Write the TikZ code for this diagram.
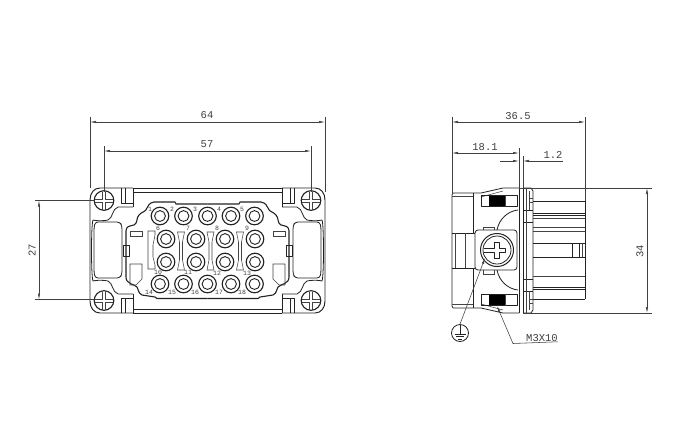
\documentclass[tikz,border=0pt]{standalone}
\usepackage{fontspec}
\setmainfont{Liberation Mono}
\usetikzlibrary{arrows.meta}
\definecolor{ink}{HTML}{222222}
\definecolor{dimc}{HTML}{404040}
\tikzset{
  part/.style={draw=ink,line width=0.8pt,line join=round},
  thin part/.style={draw=ink!85,line width=0.55pt},
  dimline/.style={draw=dimc,line width=0.55pt,{Latex[length=6pt,width=2.4pt]}-{Latex[length=6pt,width=2.4pt]}},
  tipline/.style={draw=dimc,line width=0.55pt,-{Latex[length=6pt,width=2.4pt]}},
  extline/.style={draw=dimc,line width=0.55pt},
  dimtext/.style={font=\fontsize{10.5}{11}\selectfont,text=dimc,inner sep=0pt},
  pinno/.style={font=\fontsize{6.5}{7}\selectfont,text=dimc,inner sep=0pt},
}
\newcommand{\pincircle}[2]{%
  \draw[part,line width=1.15pt] (#1,#2) circle (8.8);
  \draw[part,line width=0.9pt] (#1,#2) circle (5.4);
}
\newcommand{\platescrew}[2]{%
  \draw[part,line width=1.1pt] (#1,#2) circle (9.8);
  \draw[thin part] (#1-9,#2-1.5) -- (#1-1.5,#2-1.5) -- (#1-1.5,#2-9)
    (#1+1.5,#2-9) -- (#1+1.5,#2-1.5) -- (#1+9,#2-1.5)
    (#1+9,#2+1.5) -- (#1+1.5,#2+1.5) -- (#1+1.5,#2+9)
    (#1-1.5,#2+9) -- (#1-1.5,#2+1.5) -- (#1-9,#2+1.5);
}
% half of the front view, left side (mirrored for the right side)
\newcommand{\halffront}{%
  \draw[part,line width=0.95pt] (133,188) -- (100,188) .. controls (94,188) and (90,193) .. (90,200)
    -- (90,301) .. controls (90,308) and (94,313) .. (100,313) -- (133,313);
  \draw[part] (133,188) -- (133,207) (133,294) -- (133,313);
  \draw[part] (121,188) -- (121,203) -- (133,203) (125,188) -- (125,203)
     (121,313) -- (121,298) -- (133,298) (125,313) -- (125,298);
  \draw[part] (93,220) .. controls (95,221) and (105,221) .. (108,220)
     .. controls (113,218) and (112,209) .. (118,207) -- (133,207);
  \draw[part] (93,281) .. controls (95,280) and (105,280) .. (108,281)
     .. controls (113,283) and (112,292) .. (118,294) -- (133,294);
  \draw[part] (93,220) .. controls (91,225) and (91,276) .. (93,281);
  \draw[part,rounded corners=3pt] (95,222) -- (120,222) -- (122,226) -- (122,274) -- (120,278) -- (95,278) -- (94,272) -- (94,228) -- cycle;
  \draw[part,line width=1.1pt] (207.5,204) -- (176,204) -- (175,202) -- (154,202) .. controls (149,203) and (148,206) .. (147,208)
     .. controls (146,212) and (141,212) .. (139,215) .. controls (136,218) and (138,223) .. (134,225)
     .. controls (130,226) and (126,226) .. (126,231) -- (126,277)
     .. controls (126,284) and (134,284) .. (137,287) .. controls (139,290) and (138,293) .. (142,295)
     -- (155,297) -- (157,298.5) -- (207.5,298.5);
  \draw[part] (123,245) rectangle (129,256);
  \draw[thin part] (130,231) rectangle (142,236);
  \draw[thin part] (130,285) -- (130,264) -- (142,264) -- (142,279) -- (136,285) -- cycle;
}
\begin{document}
\begin{tikzpicture}[x=1pt,y=-1pt]
\useasboundingbox (0,0) rectangle (680,440);
\fill[white] (0,0) rectangle (680,440);

% ---------- front view ----------
\halffront
\begin{scope}[xshift=415pt,xscale=-1]\halffront\end{scope}
\draw[part] (133,188) -- (282,188) (133,192) -- (282,192) (133,309) -- (282,309) (133,313) -- (282,313);
% partitions between the pins
\draw[thin part] (148,231) -- (155,231) -- (155,235) -- (153,245) -- (153,257) -- (155,265) -- (155,269) -- (148,269) -- cycle;
\foreach \x in {181,210.5,240}{
  \draw[thin part] (\x-3.5,232) -- (\x+3.5,232) -- (\x+1.5,242) -- (\x+1.5,260) -- (\x+3.5,270) -- (\x-3.5,270) -- (\x-1.5,260) -- (\x-1.5,242) -- cycle;
}

\platescrew{104}{200.5}\platescrew{311}{200.5}\platescrew{104}{300.5}\platescrew{311}{300.5}

\foreach \x in {160,183.5,207.5,231,254.5}{\pincircle{\x}{216}\pincircle{\x}{284}}
\foreach \x in {166,196,225,255}{\pincircle{\x}{239}\pincircle{\x}{262}}

\node[pinno] (n1) at (150,209) {1};
\node[pinno] (n2) at (172,209) {2};
\node[pinno] (n3) at (195,209) {3};
\node[pinno] (n4) at (219,209) {4};
\node[pinno] (n5) at (242,209) {5};
\node[pinno] (n6) at (158,228) {6};
\node[pinno] (n7) at (188,228) {7};
\node[pinno] (n8) at (217,228) {8};
\node[pinno] (n9) at (247,228) {9};
\node[pinno] (n10) at (158,272) {10};
\node[pinno] (n11) at (188,272) {11};
\node[pinno] (n12) at (217,273) {12};
\node[pinno] (n13) at (247,273) {13};
\node[pinno] (n14) at (149,292) {14};
\node[pinno] (n15) at (172,292) {15};
\node[pinno] (n16) at (195,292) {16};
\node[pinno] (n17) at (219,292) {17};
\node[pinno] (n18) at (242,292) {18};

% front-view dimensions
\draw[extline] (90,117) -- (90,188) (325,117) -- (325,192) (104,146) -- (104,192) (311,146) -- (311,192)
   (35,200.5) -- (95,200.5) (35,299.5) -- (95,299.5);
\draw[dimline] (90,122) -- (325,122);
\draw[dimline] (104,151) -- (311,151);
\draw[dimline] (39,200.5) -- (39,299.5);
\node[dimtext] (d64) at (207,115) {64};
\node[dimtext] (d57) at (207,144) {57};
\node[dimtext,rotate=90] (d27) at (32,250) {27};

% ---------- side view ----------
\draw[part] (453,193) -- (481,193) -- (503,188) -- (519,188);
\draw[part] (453,308) -- (481,308) -- (503,313) -- (519,313);
\draw[part] (453,193) -- (452,195) -- (452,306) -- (453,308);
\draw[thin part] (452,196.5) -- (473,196.5) (452,304) -- (473,304);
\draw[part] (473,193) -- (473,233) (473,268) -- (473,308);
\draw[thin part] (481,197) -- (503,191) (481,304) -- (503,310);
\draw[part] (452,233) -- (475,233) (452,268) -- (475,268);
\draw[thin part] (455,233) -- (455,268) (465,233) -- (465,268);
\draw[part,line width=1pt] (519,188) -- (519,313) (523,188) -- (523,313);
% flange
\draw[part] (523,188) -- (531,188) -- (533,191) -- (533,310) -- (531,313) -- (523,313);
\draw[part] (523,210) -- (533,210) (523,291) -- (533,291) (523,222) -- (533,222) (523,279) -- (533,279);
\draw[thin part] (529,191) -- (529,210) (529,291) -- (529,310) (529,198) -- (533,198) (529,202) -- (533,202) (529,299) -- (533,299) (529,303) -- (533,303);
\draw[thin part] (526,188) -- (526,313);
% contact lines
\draw[part] (533,201) -- (585,201) (533,299) -- (585,299) (585,201) -- (585,299);
\draw[part,line width=1pt] (533,213) -- (585,213) (533,215) -- (585,215) (533,287) -- (585,287) (533,289) -- (585,289)
   (533,243) -- (585,243) (533,257) -- (585,257);
\draw[thin part] (533,218) -- (585,218) (533,227) -- (585,227) (533,231) -- (585,231) (533,276) -- (585,276);
\draw[part] (572,243) rectangle (579,257);
\draw[thin part] (582,243) -- (582,257);
% spring screws
\foreach \y in {195,294}{
  \draw[part] (481,\y) rectangle (517,\y+11.5);
  \fill[black] (489,\y+1) rectangle (505,\y+10.5);
  \draw[thin part] (505,\y) -- (505,\y+11.5);
}
% earth block
\draw[part,rounded corners=3pt] (475,230) rectangle (517,270);
\draw[thin part] (483,230) -- (483,227) -- (494,227) -- (494,230) (483,270) -- (483,274) -- (494,274) -- (494,270);
\draw[part] (497,230) .. controls (499,219) and (508,211) .. (518,210);
\draw[part] (497,270) .. controls (499,281) and (508,289) .. (518,290);
\draw[part,line width=1pt,fill=white] (497,250) circle (16.5);
\draw[part] (497,250) circle (14);
\draw[part] (494.5,242) -- (499.5,242) -- (499.5,248) -- (505,248) -- (505,252.5) -- (499.5,252.5) -- (499.5,258) -- (494.5,258) -- (494.5,252.5) -- (484,252.5) (484,248) -- (494.5,248) -- (494.5,242);

% earth symbol and leader
\coordinate (earthtip) at (485,258);
\node[draw=ink,line width=0.8pt,circle,minimum size=17pt,inner sep=0pt] (earth) at (460,333) {};
\draw[tipline] (earth.north) -- (earthtip);
\draw[part] (460,325) -- (460,334) (454.5,334) -- (465.5,334) (456,336.5) -- (464,336.5) (458,339) -- (462,339);

% M3X10 leader
\node[dimtext,anchor=west] (m3) at (526,338) {M3X10};
\coordinate (m3tip) at (497,306);
\coordinate (m3knee) at (513,343.5);
\draw[tipline] (m3.south east) -- (m3knee) -- (m3tip);

% side-view dimensions
\draw[extline] (452,117) -- (452,193) (585,117) -- (585,201) (519,148) -- (519,188) (523,156) -- (523,188)
  (519,188) -- (652,188) (523,313) -- (652,313);
\draw[dimline] (452,122) -- (585,122);
\draw[dimline] (452,153) -- (519,153);
\coordinate (a1) at (500,161);
\coordinate (a2) at (563,161);
\coordinate (b1) at (519,161);
\coordinate (b2) at (523,161);
\draw[tipline] (a1) -- (b1);
\draw[tipline] (a2) -- (b2);
\draw[dimline] (647,188) -- (647,313);
\node[dimtext] (d365) at (518,116) {36.5};
\node[dimtext] (d181) at (485,147) {18.1};
\node[dimtext] (d12) at (553,155) {1.2};
\node[dimtext,rotate=90] (d34) at (640,251) {34};
\end{tikzpicture}
\end{document}
